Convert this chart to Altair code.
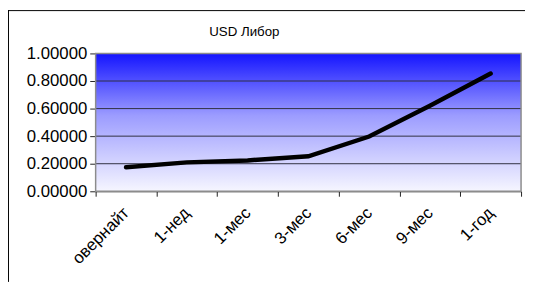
import altair as alt
import pandas as pd

categories = ["овернайт", "1-нед", "1-мес", "3-мес", "6-мес", "9-мес", "1-год"]
values = [0.174, 0.210, 0.224, 0.254, 0.397, 0.620, 0.854]
grid_values = [0.2, 0.4, 0.6, 0.8]
y_ticks = [0.0, 0.2, 0.4, 0.6, 0.8, 1.0]
title_text = "USD Либор"

W, H = 432, 140
FONT = "Liberation Sans"

df = pd.DataFrame({"term": categories, "rate": values})
grid_df = pd.DataFrame({"g": grid_values})
one = pd.DataFrame({"a": [0]})
title_df = pd.DataFrame({"t": [title_text]})

x_enc = alt.X("term:N", sort=categories, bandPosition=0.5,
              scale=alt.Scale(type="band", paddingInner=0, paddingOuter=0),
              axis=alt.Axis(title=None, labelAngle=-45, labelAlign="right",
                            labelBaseline="middle", labelPadding=14,
                            tickBand="extent", labelFont=FONT, labelFontSize=17,
                            labelColor="black", domainColor="#222222",
                            tickColor="#222222", tickSize=5, grid=False,
                            labelOverlap=False))
y_scale = alt.Scale(domain=[0, 1], nice=False)
y_axis = alt.Axis(title=None, values=y_ticks, format=".5f", grid=False,
                  labelFont=FONT, labelFontSize=17, labelColor="black",
                  domainColor="#222222", tickColor="#222222", tickSize=6,
                  labelPadding=3, labelOverlap=False)

bg = alt.Chart(one).mark_rect(
    fill=alt.Gradient(gradient="linear",
                      stops=[alt.GradientStop(color="#1414ff", offset=0),
                             alt.GradientStop(color="#9c9cff", offset=0.45),
                             alt.GradientStop(color="#f6f6ff", offset=1)],
                      x1=0, y1=0, x2=0, y2=1)
).encode(x=alt.value(0), x2=alt.value(W), y=alt.value(0), y2=alt.value(H))

grid = alt.Chart(grid_df).mark_rule(color="#303040", strokeWidth=1).encode(
    y=alt.Y("g:Q", scale=y_scale, axis=y_axis), x=alt.value(0), x2=alt.value(W))

line = alt.Chart(df).mark_line(color="black", strokeWidth=4.5, strokeCap="round").encode(
    x=x_enc,
    y=alt.Y("rate:Q", scale=y_scale, axis=y_axis))

border = alt.Chart(one).mark_rect(fill=None, stroke="#8c8c8c", strokeWidth=1.5).encode(
    x=alt.value(0), x2=alt.value(W), y=alt.value(0), y2=alt.value(H))

outer_top = alt.Chart(one).mark_rule(color="black", strokeWidth=1, clip=False).encode(
    x=alt.value(-89), x2=alt.value(W + 4), y=alt.value(-43.5))
outer_left = alt.Chart(one).mark_rule(color="black", strokeWidth=1, clip=False).encode(
    x=alt.value(-88.5), y=alt.value(-44), y2=alt.value(H + 92))

title = alt.Chart(title_df).mark_text(font=FONT, fontSize=13.5, color="black",
                                      align="center", baseline="middle", clip=False).encode(
    text="t:N", x=alt.value(151), y=alt.value(-22))

chart = alt.layer(bg, grid, border, line, title, outer_top, outer_left).properties(
    width=W, height=H,
    autosize=alt.AutoSizeParams(type="none"),
    padding={"left": 89, "top": 44, "right": 4, "bottom": 92},
).configure_view(stroke=None)

chart.save("out.html", embed_options={"renderer": "svg", "actions": False})
